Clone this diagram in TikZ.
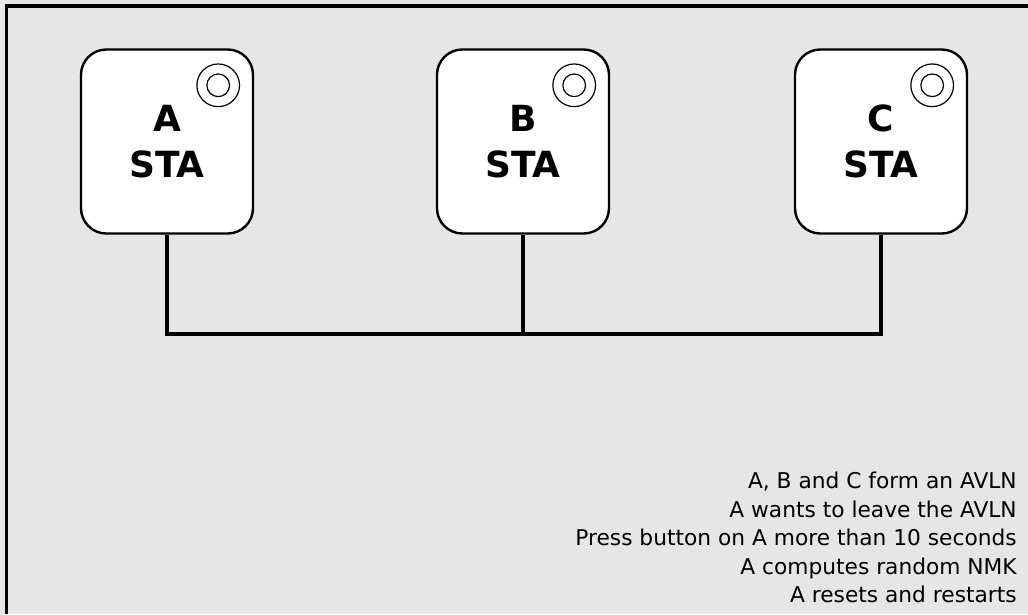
\documentclass[tikz,border=0pt]{standalone}
\usepackage{fontspec}
\setmainfont{Liberation Sans}
\newfontfamily\notefont{DejaVu Sans}
\newfontfamily\stafont{DejaVu Sans}
\usetikzlibrary{positioning,backgrounds}
\definecolor{bggray}{HTML}{E6E6E6}
\tikzset{
  sta/.style={draw, line width=1.8pt, fill=white, rounded corners=19pt,
    minimum width=129pt, minimum height=138pt, align=center,
    font=\stafont\bfseries\fontsize{27}{34}\selectfont},
  btnout/.style={draw, circle, line width=0.9pt, minimum size=32pt, inner sep=0pt},
  btnin/.style={draw, circle, line width=0.9pt, minimum size=17pt, inner sep=0pt},
  wire/.style={line width=2.6pt},
  note/.style={align=right, inner sep=0pt, font=\notefont\fontsize{16.3}{21.4}\selectfont}
}
\begin{document}
\begin{tikzpicture}[x=0.75pt,y=-0.75pt]
\fill[bggray] (0,0) rectangle (1028,614);
\useasboundingbox (0,0) rectangle (1028,614);
\draw[line width=2.6pt] (6.5,614) -- (6.5,6) -- (1028,6);

\node[sta] (staA) at (167,141.5) {A\\STA};
\node[sta] (staB) at (523,141.5) {B\\STA};
\node[sta] (staC) at (881,141.5) {C\\STA};

\foreach \s in {A,B,C}{
  \node[btnout] (btn\s) at ([shift={(-36,37)}]sta\s.north east) {};
  \node[btnin] at (btn\s) {};
}

\coordinate (busA) at (staA.south |- 0,334);
\coordinate (busB) at (staB.south |- 0,334);
\coordinate (busC) at (staC.south |- 0,334);
\draw[wire] (staA.south) -- (busA) -- (busC) -- (staC.south);
\draw[wire] (staB.south) -- (busB);

\node[note, anchor=north east] (notes) at (1017,472) {A, B and C form an AVLN\\
A wants to leave the AVLN\\
Press button on A more than 10 seconds\\
A computes random NMK\\
A resets and restarts};
\end{tikzpicture}
\end{document}
